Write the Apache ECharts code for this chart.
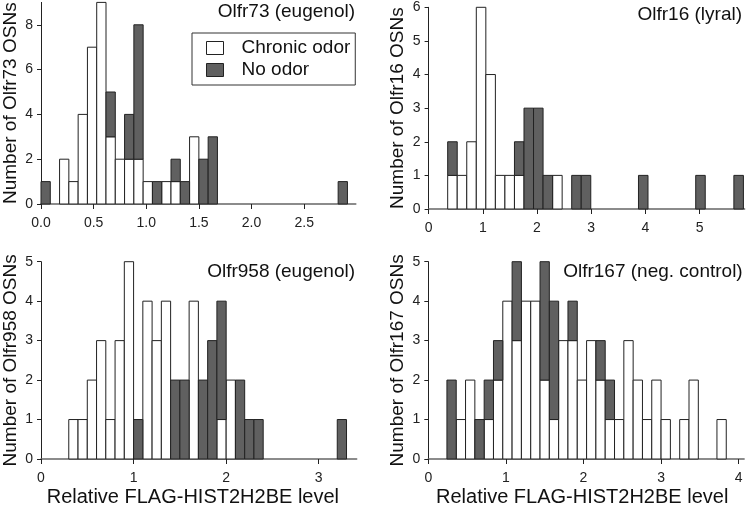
<!DOCTYPE html>
<html><head><meta charset="utf-8">
<script src="https://cdn.jsdelivr.net/npm/echarts@6/dist/echarts.min.js"></script>
<style>html,body{margin:0;padding:0;background:#fff}#c{width:747px;height:508px}</style>
</head><body><div id="c"></div>
<script>
// ---- data ----
const seriesNames = ['Chronic odor', 'No odor'];
const panelTitles = ['Olfr73 (eugenol)', 'Olfr16 (lyral)', 'Olfr958 (eugenol)', 'Olfr167 (neg. control)'];
const yTitles = ['Number of Olfr73 OSNs', 'Number of Olfr16 OSNs', 'Number of Olfr958 OSNs', 'Number of Olfr167 OSNs'];
const xTitle = 'Relative FLAG-HIST2H2BE level';
const binWidth = [0.0882, 0.176, 0.1, 0.12];
const xMax = [2.99, 5.83, 3.41, 4.07];
const yMax = [9, 6, 5, 5];
const xTicks = [[0, 0.5, 1, 1.5, 2, 2.5], [0, 1, 2, 3, 4, 5], [0, 1, 2, 3], [0, 1, 2, 3, 4]];
const yTicks = [[0, 2, 4, 6, 8], [0, 1, 2, 3, 4, 5, 6], [0, 1, 2, 3, 4, 5], [0, 1, 2, 3, 4, 5]];

const olfr73Chronic = [0,0,2,1,4,7,9,3,2,2,2,1,0,1,1,0,3,0,0,0,0,0,0,0,0,0,0,0,0,0,0,0,0];
const olfr73NoOdor  = [1,0,0,0,0,0,0,2,0,2,6,0,1,0,1,1,0,2,3,0,0,0,0,0,0,0,0,0,0,0,0,0,1];
const olfr16Chronic = [0,0,1,1,2,6,4,1,1,1,0,0,0,1,0,0,0,0,0,0,0,0,0,0,0,0,0,0,0,0,0,0,0];
const olfr16NoOdor  = [0,0,1,0,0,0,0,0,0,1,3,3,1,0,0,1,1,0,0,0,0,0,1,0,0,0,0,0,1,0,0,0,1];
const olfr958Chronic = [0,0,0,1,1,2,3,1,3,5,0,4,3,4,0,0,4,0,0,1,2,0,0,0,0,0,0,0,0,0,0,0,0,0];
const olfr958NoOdor  = [0,0,0,0,0,0,0,0,0,0,1,0,0,0,2,2,0,2,3,3,0,2,1,1,0,0,0,0,0,0,0,0,1,0];
const olfr167Chronic = [0,0,0,1,2,0,1,2,4,3,4,4,2,1,3,3,2,3,2,1,1,3,2,1,2,1,0,1,2,0,0,1,0,0];
const olfr167NoOdor  = [0,0,2,0,0,1,1,1,0,2,0,0,3,3,0,1,0,0,1,1,0,0,0,0,0,0,0,0,0,0,0,0,0,0];

const chronic = [olfr73Chronic, olfr16Chronic, olfr958Chronic, olfr167Chronic];
const noOdor = [olfr73NoOdor, olfr16NoOdor, olfr958NoOdor, olfr167NoOdor];

// ---- layout ----
const FONT = "'Liberation Sans', Arial, Helvetica, sans-serif";
const WHITE = '#ffffff', GREY = '#606060', EDGE = '#222222';
const grids = [
  {left: 41, top: 2.4, width: 314.8, height: 201.6},
  {left: 428.6, top: 7.3, width: 316, height: 201.7},
  {left: 40.7, top: 261.7, width: 316, height: 201.6},
  {left: 428.3, top: 261.7, width: 315.8, height: 201.6}
];
const titlePos = [{right: 392, top: 2}, {right: 5, top: 5}, {right: 392, top: 262}, {right: 4.3, top: 262}];

function makeSeries(idx, counts, base, name, fill) {
  const w = binWidth[idx];
  const data = [];
  counts.forEach((c, i) => {
    if (c > 0) {
      const b = base ? base[i] : 0;
      data.push([i * w, (i + 1) * w, b, b + c]);
    }
  });
  return {
    type: 'custom', name, xAxisIndex: idx, yAxisIndex: idx,
    itemStyle: {color: fill, borderColor: EDGE, borderWidth: 1},
    encode: {x: [0, 1], y: [2, 3]},
    renderItem(params, api) {
      const p0 = api.coord([api.value(0), api.value(2)]);
      const p1 = api.coord([api.value(1), api.value(3)]);
      return {type: 'rect',
        shape: {x: p0[0], y: p1[1], width: p1[0] - p0[0], height: p0[1] - p1[1]},
        style: {fill: fill, stroke: EDGE, lineWidth: 1}};
    },
    data
  };
}

const series = [];
for (let i = 0; i < 4; i++) {
  series.push(makeSeries(i, chronic[i], null, seriesNames[0], WHITE));
  series.push(makeSeries(i, noOdor[i], chronic[i], seriesNames[1], GREY));
}

const xAxes = grids.map((g, i) => ({
  type: 'value', gridIndex: i, min: 0, max: xMax[i],
  name: i >= 2 ? xTitle : '', nameLocation: 'middle', nameGap: 28,
  nameTextStyle: {fontSize: 20, color: '#111', fontFamily: FONT, padding: i === 2 ? [0, 12, 0, 0] : [0, 8, 0, 0]},
  axisLine: {show: true, onZero: false, lineStyle: {color: '#666', width: 1.5}},
  axisTick: {show: true, length: 5, customValues: xTicks[i], lineStyle: {color: '#222'}},
  axisLabel: {customValues: xTicks[i], fontSize: 14, color: '#222', fontFamily: FONT, margin: 12,
    formatter: v => i === 0 ? v.toFixed(1) : String(v)},
  splitLine: {show: false}
}));

const yAxes = grids.map((g, i) => ({
  type: 'value', gridIndex: i, min: 0, max: yMax[i],
  name: yTitles[i], nameLocation: 'middle', nameGap: 21, nameRotate: 90,
  nameTextStyle: {fontSize: 19, color: '#111', fontFamily: FONT},
  axisLine: {show: true, lineStyle: {color: '#222', width: 1}},
  axisTick: {show: true, length: 4, customValues: yTicks[i], lineStyle: {color: '#222'}},
  axisLabel: {customValues: yTicks[i], fontSize: 14, color: '#222', fontFamily: FONT, margin: 8},
  splitLine: {show: false}
}));

const option = {
  backgroundColor: '#fff',
  animation: false,
  textStyle: {fontFamily: FONT},
  title: panelTitles.map((t, i) => Object.assign({
    text: t, padding: 0,
    textStyle: {fontSize: 19, fontWeight: 'normal', color: '#111', fontFamily: FONT}
  }, titlePos[i])),
  legend: {
    left: 192, top: 33, orient: 'vertical', selectedMode: false,
    padding: [4, 5, 4, 14], itemGap: 0, itemWidth: 17, itemHeight: 13,
    borderColor: '#333', borderWidth: 1, backgroundColor: '#fff',
    textStyle: {fontSize: 19, color: '#111', fontFamily: FONT, lineHeight: 22, padding: [0, 0, 0, 13]},
    data: [
      {name: seriesNames[0], icon: 'rect', itemStyle: {color: WHITE, borderColor: EDGE, borderWidth: 1}},
      {name: seriesNames[1], icon: 'rect', itemStyle: {color: GREY, borderColor: EDGE, borderWidth: 1}}
    ]
  },
  grid: grids,
  xAxis: xAxes,
  yAxis: yAxes,
  series
};

const chart = echarts.init(document.getElementById('c'), null, {renderer: 'canvas'});
chart.setOption(option);
</script>
</body></html>
